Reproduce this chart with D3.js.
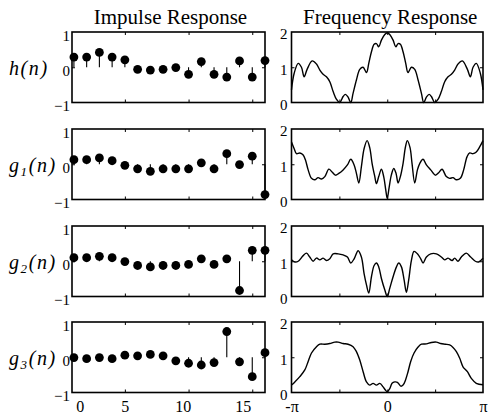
<!DOCTYPE html>
<html><head><meta charset="utf-8">
<script src="https://cdn.jsdelivr.net/npm/d3@7"></script>
<style>
body{margin:0;background:#fff}
svg{display:block;font-family:"Liberation Serif","Times New Roman",serif}
</style>
</head><body>
<svg id="c" width="490" height="420"></svg>
<script>
// ---------- data ----------
const sampleIndex = [1,2,3,4,5,6,7,8,9,10,11,12,13,14,15,16];
const impulseTicks = [5,10,15];
const impulseTickLabels = ["0","5","10","15"];
const impulseTickLabelAt = [1.45,5,9.55,14.25];
const impulseYTicks = [-1,0,1];
const freqYTicks = [0,1,2];
const freqTicks = [-0.5,0,0.5];            // in units of pi
const freqTickLabels = ["-\u03c0","0","\u03c0"];
const freqTickLabelAt = [-1,0,1];
const titles = ["Impulse Response","Frequency Response"];
const rowSymbols = ["h","g","g","g"];
const rowSubscripts = ["","1","2","3"];

const hImpulse  = [0.29,0.29,0.42,0.29,0.21,-0.06,-0.08,-0.06,-0.01,-0.20,0.16,-0.20,-0.28,0.18,-0.28,0.19];
const g1Impulse = [0.13,0.13,0.18,0.10,-0.03,-0.13,-0.20,-0.13,-0.13,-0.13,0.04,-0.13,0.30,-0.01,0.23,-0.86];
const g2Impulse = [0.10,0.10,0.14,0.10,-0.01,-0.12,-0.16,-0.12,-0.12,-0.09,0.07,-0.09,0.07,-0.83,0.31,0.31];
const g3Impulse = [-0.01,-0.04,-0.01,-0.04,0.06,0.04,0.08,0.04,-0.10,-0.17,-0.22,-0.15,0.73,-0.13,-0.55,0.13];

// frequency responses: [omega/pi, magnitude]
const hFreq = [[-1,0.36],[-0.972,0.83],[-0.93,1.11],[-0.896,1.0],[-0.868,0.73],[-0.837,0.94],[-0.784,1.18],[-0.739,1.09],[-0.704,0.92],[-0.67,0.8],[-0.635,0.73],[-0.6,0.59],[-0.565,0.31],[-0.53,0.09],[-0.496,0.0],[-0.461,0.17],[-0.437,0.23],[-0.409,0.15],[-0.381,0.0],[-0.357,0.26],[-0.322,0.64],[-0.287,0.94],[-0.252,1.0],[-0.217,0.85],[-0.193,1.11],[-0.165,1.44],[-0.137,1.65],[-0.113,1.67],[-0.089,1.58],[-0.061,1.77],[-0.026,1.93],[0,1.98],[0.026,1.93],[0.061,1.77],[0.089,1.58],[0.113,1.67],[0.137,1.65],[0.165,1.44],[0.193,1.11],[0.217,0.85],[0.252,1.0],[0.287,0.94],[0.322,0.64],[0.357,0.26],[0.381,0.0],[0.409,0.15],[0.437,0.23],[0.461,0.17],[0.496,0.0],[0.53,0.09],[0.565,0.31],[0.6,0.59],[0.635,0.73],[0.67,0.8],[0.704,0.92],[0.739,1.09],[0.784,1.18],[0.837,0.94],[0.868,0.73],[0.896,1.0],[0.93,1.11],[0.972,0.83],[1,0.36]];
const g1Freq = [[-1,1.63],[-0.972,1.44],[-0.948,1.30],[-0.913,1.32],[-0.878,1.26],[-0.854,1.12],[-0.826,0.84],[-0.791,0.60],[-0.757,0.56],[-0.722,0.62],[-0.687,0.58],[-0.652,0.65],[-0.61,0.86],[-0.576,0.78],[-0.541,0.69],[-0.506,0.74],[-0.461,0.84],[-0.416,0.98],[-0.381,1.14],[-0.346,0.98],[-0.322,0.74],[-0.297,0.47],[-0.27,0.93],[-0.242,1.44],[-0.21,1.67],[-0.183,1.47],[-0.158,1.02],[-0.13,0.65],[-0.113,0.45],[-0.089,0.65],[-0.061,0.86],[-0.037,0.65],[-0.016,0.28],[0,0.03],[0.019,0.33],[0.043,0.70],[0.068,0.88],[0.092,0.74],[0.113,0.47],[0.137,0.65],[0.165,1.02],[0.19,1.49],[0.21,1.67],[0.238,1.47],[0.259,1.02],[0.287,0.47],[0.315,0.84],[0.339,1.02],[0.374,1.14],[0.409,0.98],[0.454,0.84],[0.503,0.69],[0.537,0.76],[0.572,0.86],[0.617,0.65],[0.652,0.60],[0.687,0.62],[0.722,0.56],[0.763,0.60],[0.798,0.84],[0.833,1.21],[0.861,1.32],[0.896,1.30],[0.93,1.35],[0.965,1.49],[1,1.67]];
const g2Freq = [[-1,1.04],[-0.965,0.98],[-0.93,1.0],[-0.878,1.16],[-0.843,1.23],[-0.809,1.12],[-0.774,1.0],[-0.739,1.09],[-0.704,1.04],[-0.67,1.09],[-0.635,1.02],[-0.6,1.07],[-0.565,1.21],[-0.513,1.21],[-0.461,1.18],[-0.416,1.12],[-0.381,0.95],[-0.346,1.07],[-0.304,1.30],[-0.27,1.12],[-0.242,0.65],[-0.217,0.33],[-0.193,0.10],[-0.165,0.56],[-0.137,0.88],[-0.113,0.95],[-0.089,0.84],[-0.061,0.51],[-0.026,0.19],[0,0.0],[0.026,0.23],[0.061,0.56],[0.096,0.84],[0.12,0.95],[0.148,0.84],[0.176,0.47],[0.2,0.12],[0.224,0.47],[0.252,1.02],[0.28,1.28],[0.315,1.21],[0.35,1.07],[0.374,0.95],[0.409,1.12],[0.454,1.21],[0.513,1.21],[0.565,1.12],[0.6,1.04],[0.635,1.09],[0.677,1.02],[0.704,1.09],[0.739,1.0],[0.774,1.12],[0.826,1.23],[0.871,1.12],[0.92,1.0],[0.955,0.98],[1,1.09]];
const g3Freq = [[-1,0.21],[-0.965,0.30],[-0.913,0.45],[-0.861,0.64],[-0.826,0.88],[-0.791,1.12],[-0.739,1.30],[-0.704,1.37],[-0.652,1.37],[-0.6,1.39],[-0.548,1.43],[-0.513,1.43],[-0.461,1.39],[-0.409,1.37],[-0.357,1.30],[-0.322,1.16],[-0.287,0.92],[-0.252,0.59],[-0.217,0.30],[-0.183,0.21],[-0.148,0.26],[-0.113,0.21],[-0.078,0.26],[-0.043,0.16],[-0.019,0.07],[0,0.02],[0.026,0.11],[0.05,0.26],[0.078,0.30],[0.106,0.29],[0.141,0.18],[0.165,0.21],[0.19,0.35],[0.217,0.59],[0.245,0.88],[0.28,1.12],[0.322,1.29],[0.357,1.37],[0.409,1.38],[0.461,1.42],[0.513,1.43],[0.558,1.39],[0.607,1.37],[0.652,1.35],[0.687,1.28],[0.722,1.16],[0.757,0.97],[0.791,0.73],[0.837,0.59],[0.878,0.40],[0.93,0.26],[1,0.22]];

const impulses = [hImpulse,g1Impulse,g2Impulse,g3Impulse];
const freqs = [hFreq,g1Freq,g2Freq,g3Freq];

// ---------- layout ----------
const FONT = "'Liberation Serif','Times New Roman',serif";
const leftRange = [72,265];
const rightRange = [291.5,483];
const panelTops = [32,129,226,322];
const panelH = 70.5;

const svg = d3.select("#c");
const xImp = d3.scaleLinear().domain([0.85,16]).range(leftRange);
const xImpLabel = d3.scaleLinear().domain(impulseTickLabelAt.map((d,i)=>i*5)).range(impulseTickLabelAt.map(xImp));
const xFreq = d3.scaleLinear().domain([-1,1]).range(rightRange);

// titles
svg.append("text").attr("x",(leftRange[0]+leftRange[1])/2+2).attr("y",24)
  .attr("text-anchor","middle").attr("font-family",FONT).attr("font-size",21).text(titles[0]);
svg.append("text").attr("x",(rightRange[0]+rightRange[1])/2+3).attr("y",24)
  .attr("text-anchor","middle").attr("font-family",FONT).attr("font-size",21).text(titles[1]);

function frame(g, xr, top){
  g.append("rect").attr("x",xr[0]).attr("y",top).attr("width",xr[1]-xr[0]).attr("height",panelH)
    .attr("fill","none").attr("stroke","#000").attr("stroke-width",1.6);
}
function styleAxis(a){ a.select(".domain").remove(); a.selectAll("line").attr("stroke","#000"); }

impulses.forEach((vals,r)=>{
  const top = panelTops[r];
  const yImp = d3.scaleLinear().domain([-1,1]).range([top+panelH, top]);
  const yFreq = d3.scaleLinear().domain([0,2]).range([top+panelH, top]);
  const g = svg.append("g");

  // ----- impulse panel -----
  g.append("g").attr("transform",`translate(0,${top})`)
    .call(d3.axisTop(xImp).tickValues(impulseTicks).tickSize(-3).tickFormat("")).call(styleAxis);
  g.append("g").attr("transform",`translate(0,${top+panelH})`)
    .call(d3.axisBottom(xImp).tickValues(impulseTicks).tickSize(-3).tickFormat("")).call(styleAxis);
  g.append("g").attr("transform",`translate(${leftRange[0]},0)`)
    .call(d3.axisLeft(yImp).tickValues([0]).tickSize(-3).tickFormat("")).call(styleAxis);
  g.append("g").attr("transform",`translate(${leftRange[1]},0)`)
    .call(d3.axisRight(yImp).tickValues([0]).tickSize(-3).tickFormat("")).call(styleAxis);
  const ly = g.append("g").attr("transform",`translate(${leftRange[0]},0)`)
    .call(d3.axisLeft(yImp).tickValues(impulseYTicks).tickSize(0).tickPadding(2).tickFormat(d3.format("d")));
  ly.select(".domain").remove();
  ly.selectAll("text").attr("font-family",FONT).attr("font-size",15).attr("fill","#000").attr("dy","0.55em");

  frame(g, leftRange, top);

  g.selectAll("line.stem").data(vals).join("line").attr("class","stem")
    .attr("x1",(d,i)=>xImp(sampleIndex[i])).attr("x2",(d,i)=>xImp(sampleIndex[i]))
    .attr("y1",yImp(0)).attr("y2",d=>yImp(d)).attr("stroke","#000").attr("stroke-width",1.1);
  g.selectAll("circle.dot").data(vals).join("circle").attr("class","dot")
    .attr("cx",(d,i)=>xImp(sampleIndex[i])).attr("cy",d=>yImp(d)).attr("r",4.4).attr("fill","#000");

  // row label
  const t = g.append("text").attr("x",9).attr("y",yImp(0)+8)
    .attr("font-family",FONT).attr("font-size",20).attr("font-style","italic").attr("letter-spacing",1.6);
  t.append("tspan").text(rowSymbols[r]);
  if(rowSubscripts[r]){
    t.append("tspan").attr("font-size",13).attr("dy",4).text(rowSubscripts[r]);
    t.append("tspan").attr("dy",-4).text("(n)");
  } else {
    t.append("tspan").text("(n)");
  }

  // ----- frequency panel -----
  g.append("g").attr("transform",`translate(0,${top})`)
    .call(d3.axisTop(xFreq).tickValues(freqTicks).tickSize(-3).tickFormat("")).call(styleAxis);
  g.append("g").attr("transform",`translate(0,${top+panelH})`)
    .call(d3.axisBottom(xFreq).tickValues(freqTicks).tickSize(-3).tickFormat("")).call(styleAxis);
  g.append("g").attr("transform",`translate(${rightRange[0]},0)`)
    .call(d3.axisLeft(yFreq).tickValues([1]).tickSize(-3).tickFormat("")).call(styleAxis);
  g.append("g").attr("transform",`translate(${rightRange[1]},0)`)
    .call(d3.axisRight(yFreq).tickValues([1]).tickSize(-3).tickFormat("")).call(styleAxis);
  const ry = g.append("g").attr("transform",`translate(${rightRange[0]},0)`)
    .call(d3.axisLeft(yFreq).tickValues(freqYTicks).tickSize(0).tickPadding(4).tickFormat(d3.format("d")));
  ry.select(".domain").remove();
  ry.selectAll("text").attr("font-family",FONT).attr("font-size",15).attr("fill","#000").attr("dy","0.45em");

  const line = d3.line().x(d=>xFreq(d[0])).y(d=>yFreq(d[1])).curve(d3.curveCatmullRom.alpha(0.5));
  g.append("path").datum(freqs[r]).attr("d",line).attr("fill","none").attr("stroke","#000").attr("stroke-width",1.4);

  frame(g, rightRange, top);

  if(r === impulses.length-1){
    const bx = g.append("g").attr("transform",`translate(0,${top+panelH})`)
      .call(d3.axisBottom(xImpLabel).tickValues([0,5,10,15]).tickSize(0).tickPadding(8)
        .tickFormat((d,i)=>impulseTickLabels[i]));
    bx.select(".domain").remove();
    bx.selectAll("text").attr("font-family",FONT).attr("font-size",16).attr("fill","#000");
    const fx = g.append("g").attr("transform",`translate(0,${top+panelH})`)
      .call(d3.axisBottom(xFreq).tickValues(freqTickLabelAt).tickSize(0).tickPadding(8)
        .tickFormat((d,i)=>freqTickLabels[i]));
    fx.select(".domain").remove();
    fx.selectAll("text").attr("font-family",FONT).attr("font-size",16).attr("fill","#000");
  }
});
</script>
</body></html>
